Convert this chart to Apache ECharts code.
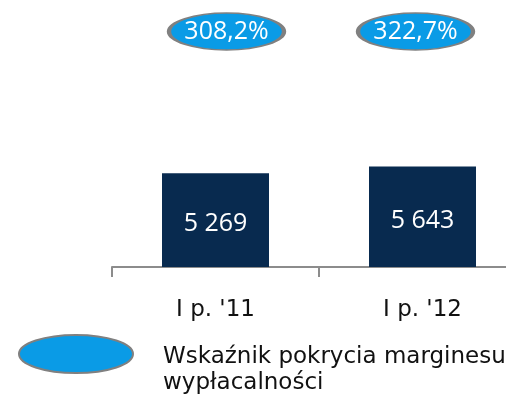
<!DOCTYPE html>
<html>
<head>
<meta charset="utf-8">
<script src="https://cdn.jsdelivr.net/npm/echarts@6/dist/echarts.min.js"></script>
<style>
  html, body { margin: 0; padding: 0; background: #ffffff; }
  #chart { width: 506px; height: 401px; }
</style>
</head>
<body>
<div id="chart"></div>
<script>
// Periods and values
const categories = ["I p. '11", "I p. '12"];
const marginValues = [5269, 5643];          // bars
const coverageRatio = [308.2, 322.7];       // badges, %
const ratioName = 'Wskaźnik pokrycia marginesu wypłacalności';

// horizontal nudge of each badge relative to its period centre (px)
const badgeShift = [11, -7];

const ELLIPSE = 'path://M0,1 A1,1 0 1,1 2,1 A1,1 0 1,1 0,1 Z';
const fmtThousands = v => String(v).replace(/\B(?=(\d{3})+(?!\d))/g, ' ');
const fmtPct = v => v.toFixed(1).replace('.', ',') + '%';
const TEXT_FONT = 'Verdana, "DejaVu Sans", sans-serif';
const NUM_FONT = '"Open Sans", "Noto Sans", sans-serif';

const chart = echarts.init(document.getElementById('chart'), null, { renderer: 'canvas' });

chart.setOption({
  animation: false,
  backgroundColor: '#ffffff',
  grid: [
    { left: 112, width: 414, top: 89, bottom: 134, outerBoundsMode: 'none' },
    { left: 112, width: 414, top: 13, height: 37, outerBoundsMode: 'none' }
  ],
  xAxis: [
    {
      type: 'category',
      gridIndex: 0,
      data: categories,
      axisLine: { show: true, lineStyle: { color: '#8c8c8c', width: 2 } },
      axisTick: { show: true, length: 10, lineStyle: { color: '#8c8c8c', width: 2 } },
      axisLabel: {
        margin: 32,
        color: '#111111',
        fontFamily: TEXT_FONT,
        fontSize: 23
      }
    },
    { type: 'category', gridIndex: 1, data: categories, show: false }
  ],
  yAxis: [
    { type: 'value', gridIndex: 0, min: 0, max: 10000, show: false },
    { type: 'category', gridIndex: 1, data: ['ratio'], show: false }
  ],
  legend: {
    left: 13,
    top: 307,
    orient: 'vertical',
    data: [ratioName],
    icon: ELLIPSE,
    symbolKeepAspect: false,
    itemWidth: 114,
    itemHeight: 38,
    formatter: () => '{s|}\n{g|}{t|Wskaźnik pokrycia marginesu}\n{g|}{t|wypłacalności}',
    textStyle: {
      color: '#111111',
      fontFamily: TEXT_FONT,
      fontSize: 23,
      lineHeight: 26,
      rich: {
        s: { lineHeight: 32, fontSize: 23 },
        g: { width: 25, lineHeight: 26, fontSize: 23 },
        t: { color: '#111111', fontFamily: TEXT_FONT, fontSize: 23, lineHeight: 26 }
      }
    }
  },
  series: [
    {
      type: 'bar',
      xAxisIndex: 0,
      yAxisIndex: 0,
      data: marginValues,
      barWidth: 107,
      itemStyle: { color: '#082a4f' },
      label: {
        show: true,
        position: 'inside',
        offset: [0, 4],
        color: '#ffffff',
        fontFamily: NUM_FONT,
        fontSize: 25,
        formatter: p => fmtThousands(p.value)
      }
    },
    {
      name: ratioName,
      type: 'scatter',
      xAxisIndex: 1,
      yAxisIndex: 1,
      symbol: ELLIPSE,
      symbolSize: [115, 37],
      data: categories.map((c, i) => ({
        value: [c, 'ratio', coverageRatio[i]],
        symbolOffset: [badgeShift[i], 0]
      })),
      encode: { x: 0, y: 1 },
      itemStyle: { color: '#0a9be6', borderColor: '#808080', borderWidth: 2.5, opacity: 1 },
      label: {
        show: true,
        position: 'inside',
        color: '#ffffff',
        fontFamily: NUM_FONT,
        fontSize: 25,
        formatter: p => fmtPct(p.value[2])
      }
    }
  ]
});
</script>
</body>
</html>
